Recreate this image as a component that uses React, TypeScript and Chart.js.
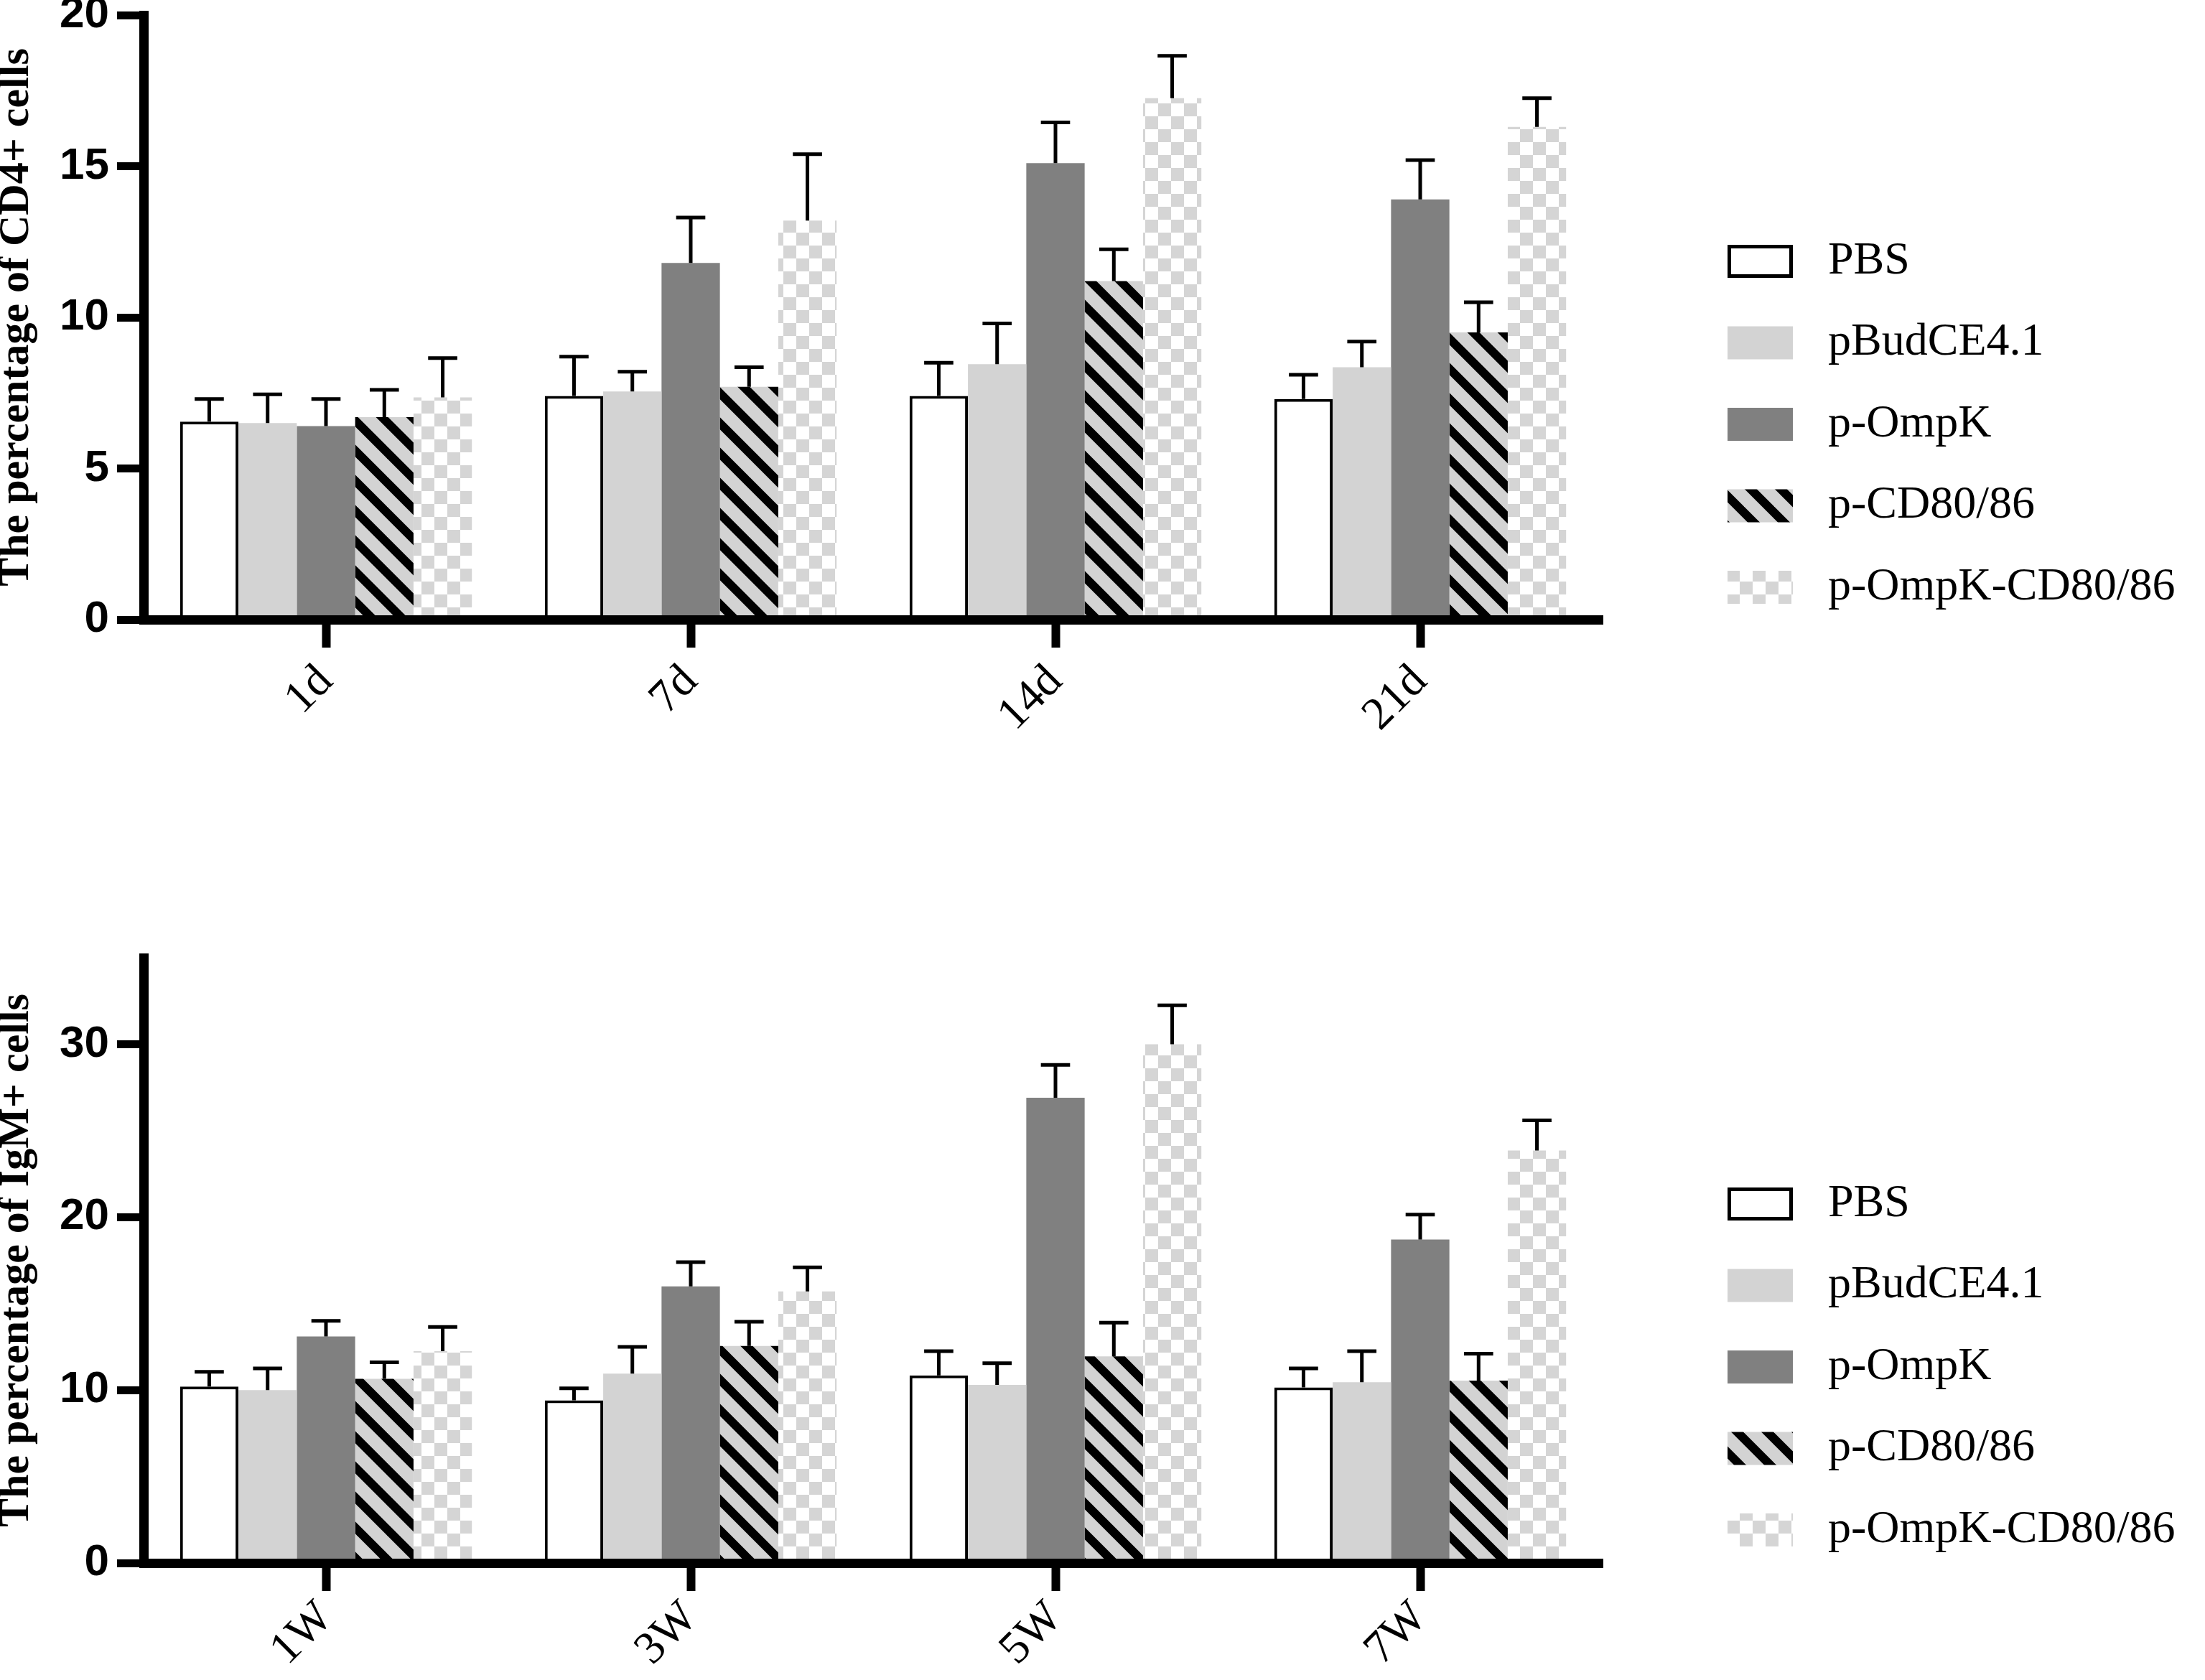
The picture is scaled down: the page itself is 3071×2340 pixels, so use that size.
import React, { useEffect, useRef } from "react";
import { Chart, registerables } from "chart.js";

Chart.register(...registerables);

const groupNames = ["PBS", "pBudCE4.1", "p-OmpK", "p-CD80/86", "p-OmpK-CD80/86"];
const dayLabels = ["1d", "7d", "14d", "21d"];
const weekLabels = ["1W", "3W", "5W", "7W"];

// one row per group, one column per time point
const cd4Means = [
  [6.55, 7.4, 7.4, 7.3],
  [6.5, 7.55, 8.45, 8.35],
  [6.4, 11.8, 15.1, 13.9],
  [6.7, 7.7, 11.2, 9.5],
  [7.35, 13.2, 17.25, 16.3],
];
const cd4Sd = [
  [0.75, 1.3, 1.1, 0.8],
  [0.95, 0.65, 1.35, 0.85],
  [0.9, 1.5, 1.35, 1.3],
  [0.9, 0.65, 1.05, 1.0],
  [1.3, 2.2, 1.4, 0.95],
];
const igmMeans = [
  [10.2, 9.4, 10.85, 10.15],
  [10.0, 10.95, 10.3, 10.45],
  [13.1, 16.0, 26.9, 18.7],
  [10.65, 12.55, 11.95, 10.55],
  [12.25, 15.7, 30.0, 23.85],
];
const igmSd = [
  [0.85, 0.7, 1.4, 1.1],
  [1.25, 1.55, 1.25, 1.8],
  [0.9, 1.4, 1.9, 1.45],
  [0.95, 1.4, 1.95, 1.55],
  [1.4, 1.4, 2.25, 1.75],
];
const cd4Ticks = [0, 5, 10, 15, 20];
const igmTicks = [0, 10, 20, 30];

const SERIF = "'Liberation Serif', 'Times New Roman', serif";
const SANS = "'Liberation Sans', Arial, sans-serif";

function stripePattern() {
  const s = 42;
  const c = document.createElement("canvas");
  c.width = s;
  c.height = s;
  const g = c.getContext("2d")!;
  g.fillStyle = "#d3d3d3";
  g.fillRect(0, 0, s, s);
  g.strokeStyle = "#000";
  g.lineWidth = 12;
  for (const k of [-1, 0, 1]) {
    g.beginPath();
    g.moveTo(k * s - 10, -10);
    g.lineTo(k * s + s + 10, s + 10);
    g.stroke();
  }
  return g.createPattern(c, "repeat");
}

function checkerPattern() {
  const s = 18;
  const c = document.createElement("canvas");
  c.width = s * 2;
  c.height = s * 2;
  const g = c.getContext("2d")!;
  g.fillStyle = "#fff";
  g.fillRect(0, 0, s * 2, s * 2);
  g.fillStyle = "#d5d5d5";
  g.fillRect(0, 0, s, s);
  g.fillRect(s, s, s, s);
  return g.createPattern(c, "repeat");
}

const errorBars = {
  id: "errorBars",
  afterDatasetsDraw(chart: any, _args: any, opts: any) {
    const { ctx } = chart;
    const yScale = chart.scales.y;
    ctx.save();
    ctx.strokeStyle = "#000";
    ctx.lineWidth = 5;
    chart.data.datasets.forEach((ds: any, i: number) => {
      chart.getDatasetMeta(i).data.forEach((bar: any, j: number) => {
        const { x, y, width } = bar.getProps(["x", "y", "width"], true);
        const top = yScale.getPixelForValue(ds.data[j] + opts.sd[i][j]);
        ctx.beginPath();
        ctx.moveTo(x, y);
        ctx.lineTo(x, top);
        ctx.moveTo(x - width / 4, top);
        ctx.lineTo(x + width / 4, top);
        ctx.stroke();
      });
    });
    ctx.restore();
  },
};

const sideLegend = {
  id: "sideLegend",
  afterDraw(chart: any, _args: any, opts: any) {
    const { ctx } = chart;
    ctx.save();
    ctx.font = `64px ${SERIF}`;
    ctx.textBaseline = "middle";
    chart.data.datasets.forEach((ds: any, i: number) => {
      const cy = opts.top + i * opts.gap;
      const bw = 91;
      const bh = 46;
      ctx.fillStyle = ds.backgroundColor;
      ctx.fillRect(opts.x, cy - bh / 2, bw, bh);
      if (ds.borderWidth) {
        ctx.strokeStyle = "#000";
        ctx.lineWidth = 5;
        ctx.strokeRect(opts.x + 2.5, cy - bh / 2 + 2.5, bw - 5, bh - 5);
      }
      ctx.fillStyle = "#000";
      ctx.fillText(ds.label, opts.x + 140, cy);
    });
    ctx.restore();
  },
};

type PanelProps = {
  labels: string[];
  means: number[][];
  sd: number[][];
  ticks: number[];
  yMax: number;
  yTitle: string;
  top: number;
  height: number;
  padTop: number;
  xHeight: number;
  labelPad: number;
  legendTop: number;
};

const CANVAS_W = 3078;

function Panel(p: PanelProps) {
  const ref = useRef<HTMLCanvasElement | null>(null);

  useEffect(() => {
    if (!ref.current) return;
    const fills = ["#ffffff", "#d3d3d3", "#808080", stripePattern(), checkerPattern()];
    const chart = new Chart(ref.current, {
      type: "bar",
      data: {
        labels: p.labels,
        datasets: groupNames.map((name, i) => ({
          label: name,
          data: p.means[i],
          backgroundColor: fills[i] as any,
          borderColor: "#000",
          borderWidth: i === 0 ? 4 : 0,
          categoryPercentage: 0.8,
          barPercentage: 1,
        })),
      },
      plugins: [errorBars, sideLegend],
      options: {
        responsive: false,
        animation: false,
        devicePixelRatio: 1,
        layout: { padding: { top: p.padTop, right: CANVAS_W - 2239, left: 0, bottom: 0 } },
        plugins: {
          legend: { display: false },
          tooltip: { enabled: false },
          errorBars: { sd: p.sd },
          sideLegend: { x: 2413, top: p.legendTop, gap: 113.5 },
        } as any,
        scales: {
          x: {
            offset: true,
            grid: {
              offset: false,
              drawOnChartArea: false,
              drawTicks: true,
              tickLength: 39,
              tickWidth: 12,
              tickColor: "#000",
              z: 1,
            },
            border: { display: true, width: 13, color: "#000", z: 2 },
            ticks: {
              autoSkip: false,
              maxRotation: 45,
              minRotation: 45,
              padding: p.labelPad,
              color: "#000",
              font: { family: SERIF, size: 64 },
            },
            afterFit: (s: any) => {
              s.height = p.xHeight;
              s.paddingLeft = 0;
              s.paddingRight = 0;
            },
          },
          y: {
            min: 0,
            max: p.yMax,
            afterBuildTicks: (axis: any) => {
              axis.ticks = p.ticks.map((v) => ({ value: v }));
            },
            grid: {
              drawOnChartArea: false,
              drawTicks: true,
              tickLength: 37,
              tickWidth: 11,
              tickColor: "#000",
              z: 1,
            },
            border: { display: true, width: 13, color: "#000", z: 2 },
            ticks: {
              padding: 11,
              color: "#000",
              font: { family: SANS, size: 62, weight: "bold" },
            },
            title: {
              display: true,
              text: p.yTitle,
              color: "#000",
              padding: 0,
              font: { family: SERIF, size: 60, weight: "bold", lineHeight: 1 },
            },
            afterFit: (s: any) => {
              s.width = 207;
              s.paddingTop = 0;
              s.paddingBottom = 0;
            },
          },
        },
      },
    });
    return () => chart.destroy();
  }, []);

  return (
    <canvas
      ref={ref}
      width={CANVAS_W}
      height={p.height}
      style={{ position: "absolute", left: -7, top: p.top, display: "block" }}
    />
  );
}

export default function App() {
  return (
    <div
      style={{
        position: "fixed",
        left: 0,
        top: 0,
        width: 3071,
        height: 2340,
        overflow: "hidden",
        background: "#fff",
      }}
    >
      <Panel
        labels={dayLabels}
        means={cd4Means}
        sd={cd4Sd}
        ticks={cd4Ticks}
        yMax={20}
        yTitle="The percentage of CD4+ cells"
        top={0}
        height={1120}
        padTop={21}
        xHeight={1120 - 863}
        labelPad={10}
        legendTop={364}
      />
      <Panel
        labels={weekLabels}
        means={igmMeans}
        sd={igmSd}
        ticks={igmTicks}
        yMax={35}
        yTitle="The percentage of IgM+ cells"
        top={1290}
        height={1050}
        padTop={44}
        xHeight={2340 - 2177}
        labelPad={0}
        legendTop={387}
      />
    </div>
  );
}
